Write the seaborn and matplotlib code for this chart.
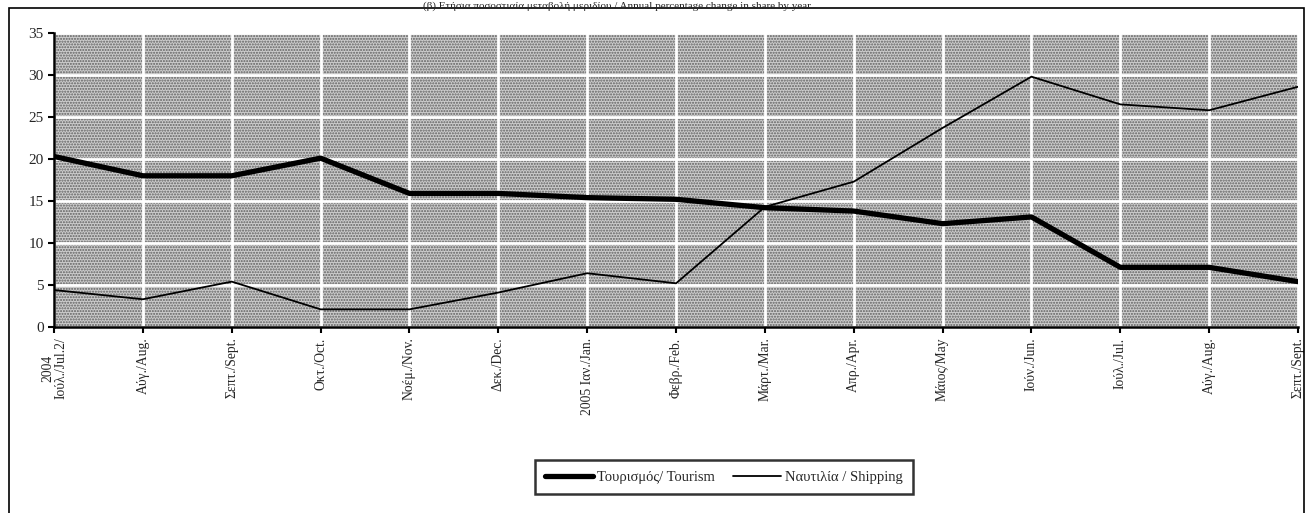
import numpy as np
import pandas as pd
import seaborn as sns
import matplotlib.pyplot as plt
from matplotlib.patches import Rectangle

months = ['2004\nΙούλ./Jul.2/', 'Αύγ./Aug.', 'Σεπτ./Sept.', 'Οκτ./Oct.', 'Νοέμ./Nov.',
          'Δεκ./Dec.', '2005 Ιαν./Jan.', 'Φεβρ./Feb.', 'Μάρτ./Mar.', 'Απρ./Apr.',
          'Μάιος/May', 'Ιούν./Jun.', 'Ιούλ./Jul.', 'Αύγ./Aug.', 'Σεπτ./Sept.']
tourism = [20.3, 18.0, 18.0, 20.1, 15.9, 15.9, 15.4, 15.2, 14.2, 13.8, 12.3, 13.1, 7.1, 7.1, 5.4]
shipping = [4.4, 3.3, 5.4, 2.1, 2.1, 4.1, 6.4, 5.2, 14.3, 17.3, 23.7, 29.8, 26.5, 25.8, 28.6]
tourism_label = 'Τουρισμός/ Tourism'
shipping_label = 'Ναυτιλία / Shipping'
title = '(β) Ετήσια ποσοστιαία μεταβολή μεριδίου / Annual percentage change in share by year'

sns.set_style('ticks')
plt.rcParams['font.family'] = ['Liberation Serif', 'DejaVu Serif']

df = pd.DataFrame({'pos': np.arange(len(months)), 'tourism': tourism, 'shipping': shipping})

fig = plt.figure(figsize=(13.08, 5.13), dpi=100)
ax = fig.add_axes([0.0413, 0.3626, 0.9511, 0.5731])

# dotted background
ax.set_facecolor('#cccccc')
bg = Rectangle((0, 0), 1, 1, transform=ax.transAxes, facecolor='none',
               edgecolor='#606060', hatch='......', lw=0, zorder=0.1)
ax.add_patch(bg)
ax.set_axisbelow(True)
ax.grid(True, color='white', lw=2)

sns.lineplot(data=df, x='pos', y='tourism', color='black', lw=3.8, ax=ax,
             label=tourism_label, zorder=3)
sns.lineplot(data=df, x='pos', y='shipping', color='black', lw=1.3, ax=ax,
             label=shipping_label, zorder=3)

ax.set_xlim(0, len(months) - 1)
ax.set_ylim(0, 35)
ax.set_yticks(range(0, 36, 5))
ax.set_xticks(df['pos'])
ax.set_xticklabels(months, rotation=90, fontsize=9.8, va='top', ha='center',
                   linespacing=1.0)
ax.tick_params(axis='y', labelsize=11, length=4, width=1.5, color='black')
ax.tick_params(axis='x', length=4, width=1.5, color='black')
ax.set_xlabel('')
ax.set_ylabel('')
sns.despine(ax=ax)
for side in ['left', 'bottom']:
    ax.spines[side].set_linewidth(1.8)
    ax.spines[side].set_color('black')

leg = ax.legend(loc='center', bbox_to_anchor=(0.5535, 0.07), bbox_transform=fig.transFigure,
                ncol=2, frameon=True, fancybox=False, shadow=False, fontsize=10.5,
                handlelength=3.3, handletextpad=0.3, columnspacing=1.2, borderpad=0.7)
leg.get_frame().set_edgecolor('black')
leg.get_frame().set_linewidth(1.8)

fig.add_artist(Rectangle((0.0069, -0.05), 0.99, 0.984 + 0.05, transform=fig.transFigure,
                         facecolor='none', edgecolor='black', lw=1.2))
fig.text(0.472, 0.998, title, ha='center', va='top', fontsize=8)

fig.savefig('out.png', dpi=100)
